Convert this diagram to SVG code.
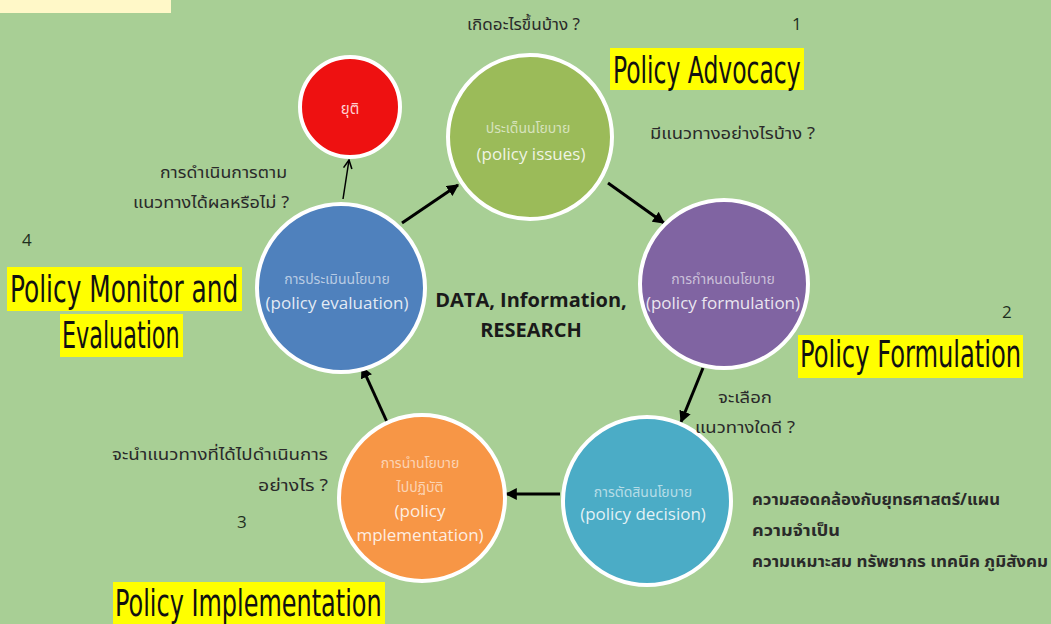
<svg xmlns="http://www.w3.org/2000/svg" width="1051" height="624" viewBox="0 0 1051 624">
<defs>
<marker id="ah" viewBox="0 0 10 10" refX="9" refY="5" markerWidth="4" markerHeight="4" orient="auto" markerUnits="strokeWidth">
<path d="M0,0 L10,5 L0,10 z" fill="#000"/>
</marker>
<marker id="ahs" viewBox="0 0 10 10" refX="9" refY="5" markerWidth="7" markerHeight="7" orient="auto" markerUnits="strokeWidth">
<path d="M1,1 L9,5 L1,9" fill="none" stroke="#000" stroke-width="1.5"/>
</marker>
<style>
.node{stroke:#fff;stroke-width:4}
.th{font-family:"Noto Sans Thai","Noto Sans","DejaVu Sans",sans-serif;}
.cs{font-family:"Noto Sans Thai","Noto Sans","DejaVu Sans",sans-serif;font-size:14px;fill:#fff;fill-opacity:0.6;text-anchor:middle}
.ce{font-family:"Open Sans","Liberation Sans",sans-serif;font-size:17px;fill:#fff;fill-opacity:0.85;text-anchor:middle}
.q{font-family:"Noto Sans Thai","Noto Sans","DejaVu Sans",sans-serif;font-size:16px;fill:#2a2a2a}
.num{font-family:"Open Sans","Liberation Sans",sans-serif;font-size:17px;fill:#1f2f1f}
.hl{fill:#ffff00}
.big{font-family:"DejaVu Sans Condensed","DejaVu Sans",sans-serif;font-stretch:condensed;font-size:38px;fill:#111}
.con{stroke:#000;stroke-width:3;fill:none}
</style>
</defs>
<rect width="1051" height="624" fill="#a8cf95"/>
<rect x="0" y="0" width="171" height="13" fill="#fff8c8"/>

<g id="connectors">
<line class="con" x1="402" y1="223" x2="458" y2="185" marker-end="url(#ah)"/>
<line class="con" x1="608" y1="183" x2="664" y2="223" marker-end="url(#ah)"/>
<line class="con" x1="703" y1="368" x2="681" y2="422" marker-end="url(#ah)"/>
<line class="con" x1="560" y1="494" x2="506" y2="494" marker-end="url(#ah)"/>
<line class="con" x1="387" y1="422" x2="362" y2="367" marker-end="url(#ah)"/>
<line stroke="#000" stroke-width="1.5" fill="none" x1="343" y1="199" x2="349" y2="160" marker-end="url(#ahs)"/>
</g>

<g id="node-stop">
<circle class="node" cx="350" cy="107" r="50" fill="#ee1111"/>
<text class="th" x="350" y="114" font-size="15" fill="#ffd0d0" text-anchor="middle">ยุติ</text>
</g>

<g id="node-issues">
<circle class="node" cx="530" cy="137" r="82" fill="#9bbb59"/>
<text class="cs" x="528" y="133">ประเด็นนโยบาย</text>
<text class="ce" x="531" y="160">(policy issues)</text>
</g>

<g id="node-formulation">
<circle class="node" cx="724" cy="284" r="84" fill="#8064a2"/>
<text class="cs" x="723" y="284">การกำหนดนโยบาย</text>
<text class="ce" x="723" y="309">(policy formulation)</text>
</g>

<g id="node-decision">
<circle class="node" cx="647" cy="501" r="84" fill="#4bacc6"/>
<text class="cs" x="643" y="497">การตัดสินนโยบาย</text>
<text class="ce" x="643" y="520" font-size="17.5">(policy decision)</text>
</g>

<g id="node-implementation">
<circle class="node" cx="422" cy="498" r="83" fill="#f79646"/>
<text class="cs" x="420" y="468">การนำนโยบาย</text>
<text class="cs" x="420" y="492">ไปปฏิบัติ</text>
<text class="ce" x="420" y="517">(policy</text>
<text class="ce" x="420" y="541">mplementation)</text>
</g>

<g id="node-evaluation">
<circle class="node" cx="341" cy="288" r="84" fill="#4f81bd"/>
<text class="cs" x="337" y="284">การประเมินนโยบาย</text>
<text class="ce" x="337" y="309">(policy evaluation)</text>
</g>

<g id="center-label">
<text x="531" y="307" font-family="Open Sans, Liberation Sans, sans-serif" font-weight="bold" font-size="20" fill="#1a1a1a" text-anchor="middle">DATA, Information,</text>
<text x="531" y="337" font-family="Open Sans, Liberation Sans, sans-serif" font-weight="bold" font-size="20" fill="#1a1a1a" text-anchor="middle">RESEARCH</text>
</g>

<g id="labels">
<text class="q" x="467" y="30" textLength="113" lengthAdjust="spacingAndGlyphs">เกิดอะไรขึ้นบ้าง ?</text>
<text class="num" x="792" y="30">1</text>
<rect class="hl" x="610" y="48" width="194" height="42"/>
<text class="big" transform="translate(613,83) scale(0.7,1)" textLength="268" lengthAdjust="spacingAndGlyphs">Policy Advocacy</text>
<text class="q" x="650" y="139" textLength="165" lengthAdjust="spacingAndGlyphs">มีแนวทางอย่างไรบ้าง ?</text>

<text class="q" x="160" y="178" textLength="127" lengthAdjust="spacingAndGlyphs">การดำเนินการตาม</text>
<text class="q" x="133" y="208" textLength="156" lengthAdjust="spacingAndGlyphs">แนวทางได้ผลหรือไม่ ?</text>
<text class="num" x="22" y="246">4</text>
<rect class="hl" x="7" y="267" width="235" height="44"/>
<text class="big" transform="translate(10,302) scale(0.7,1)" textLength="326" lengthAdjust="spacingAndGlyphs">Policy Monitor and</text>
<rect class="hl" x="60" y="314" width="123" height="43"/>
<text class="big" transform="translate(62,348) scale(0.7,1)" textLength="168" lengthAdjust="spacingAndGlyphs">Evaluation</text>

<text class="num" x="1002" y="318">2</text>
<rect class="hl" x="798" y="335" width="225" height="43"/>
<text class="big" transform="translate(800,367) scale(0.7,1)" textLength="316" lengthAdjust="spacingAndGlyphs">Policy Formulation</text>
<text class="q" x="718" y="403" textLength="54" lengthAdjust="spacingAndGlyphs">จะเลือก</text>
<text class="q" x="695" y="433" textLength="100" lengthAdjust="spacingAndGlyphs">แนวทางใดดี ?</text>

<text class="q" x="112" y="460" textLength="216" lengthAdjust="spacingAndGlyphs">จะนำแนวทางที่ได้ไปดำเนินการ</text>
<text class="q" x="258" y="491" textLength="70" lengthAdjust="spacingAndGlyphs">อย่างไร ?</text>
<text class="num" x="237" y="528">3</text>
<rect class="hl" x="113" y="582" width="272" height="42"/>
<text class="big" transform="translate(115,616) scale(0.7,1)" textLength="381" lengthAdjust="spacingAndGlyphs">Policy Implementation</text>

<text class="q" x="752" y="505" font-weight="bold" textLength="248" lengthAdjust="spacingAndGlyphs">ความสอดคล้องกับยุทธศาสตร์/แผน</text>
<text class="q" x="752" y="536" font-weight="bold" textLength="88" lengthAdjust="spacingAndGlyphs">ความจำเป็น</text>
<text class="q" x="752" y="567" font-weight="bold" textLength="296" lengthAdjust="spacingAndGlyphs">ความเหมาะสม ทรัพยากร เทคนิค ภูมิสังคม</text>
</g>
</svg>
